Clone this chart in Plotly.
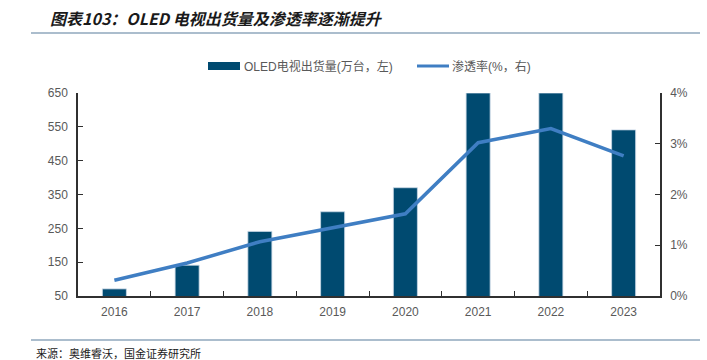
import plotly.graph_objects as go

years = ["2016", "2017", "2018", "2019", "2020", "2021", "2022", "2023"]
shipments = [71, 141, 241, 299, 370, 650, 650, 541]          # 万台, left axis
penetration = [0.0031, 0.0065, 0.0107, 0.0135, 0.0162, 0.0302, 0.0330, 0.0276]  # right axis

left_ticks = [50, 150, 250, 350, 450, 550, 650]
right_ticks = [0, 0.01, 0.02, 0.03, 0.04]

title_text = "图表103：OLED 电视出货量及渗透率逐渐提升"
source_text = "来源：奥维睿沃，国金证券研究所"
bar_name = "OLED电视出货量(万台，左)"
line_name = "渗透率(%，右)"

W, H = 707, 360
L, R, T, B = 78, 47, 93, 64
PW, PH = W - L - R, H - T - B

def px(x):
    return (x - L) / PW

def py(y):
    return (H - B - y) / PH

BAR_COLOR = "#004A70"
LINE_COLOR = "#3F7EC3"
TXT = "#595959"
FONT = "Liberation Sans, Arial, Noto Sans CJK SC, sans-serif"
CJK = "Noto Sans CJK SC, sans-serif"

fig = go.Figure()
fig.add_trace(go.Bar(
    x=years, y=shipments, name=bar_name, width=0.33,
    marker=dict(color=BAR_COLOR, line=dict(color="rgba(200,215,230,0.8)", width=1)),
    showlegend=False,
))
fig.add_trace(go.Scatter(
    x=years, y=penetration, name=line_name, yaxis="y2", mode="lines",
    line=dict(color=LINE_COLOR, width=3.5), showlegend=False,
))

fig.update_layout(
    width=W, height=H,
    margin=dict(l=L, r=R, t=T, b=B),
    paper_bgcolor="white", plot_bgcolor="white",
    font=dict(family=FONT, size=12, color=TXT),
    xaxis=dict(
        type="category", showline=True, linecolor="#303030", linewidth=1.5,
        ticks="inside", tickson="boundaries", ticklen=5, tickcolor="#303030",
        showgrid=False, tickfont=dict(size=12, color=TXT), ticklabelstandoff=4,
    ),
    yaxis=dict(
        range=[50, 650], tickvals=left_ticks, showline=True, linecolor="#303030",
        linewidth=1.5, ticks="inside", ticklen=5, tickcolor="#303030",
        showgrid=False, zeroline=False, tickfont=dict(size=12, color=TXT),
        ticklabelstandoff=6,
    ),
    yaxis2=dict(
        range=[0, 0.04], tickvals=right_ticks, tickformat=".0%", overlaying="y",
        side="right", showline=True, linecolor="#303030", linewidth=1.5,
        ticks="inside", ticklen=5, tickcolor="#303030", showgrid=False,
        zeroline=False, tickfont=dict(size=12, color=TXT), ticklabelstandoff=6,
    ),
    bargap=0.67,
)

shapes = [
    # title underline
    dict(type="line", xref="paper", yref="paper", x0=px(31), x1=px(700), y0=py(33), y1=py(33),
         line=dict(color="#8FA7BC", width=1.5)),
    # source top line
    dict(type="line", xref="paper", yref="paper", x0=px(31), x1=px(700), y0=py(340), y1=py(340),
         line=dict(color="#8FA7BC", width=1.5)),
    # legend bar swatch
    dict(type="rect", xref="paper", yref="paper", x0=px(208), x1=px(240), y0=py(70), y1=py(62),
         fillcolor=BAR_COLOR, line=dict(width=0)),
    # legend line swatch
    dict(type="line", xref="paper", yref="paper", x0=px(417), x1=px(449), y0=py(66), y1=py(66),
         line=dict(color=LINE_COLOR, width=3)),
]
fig.update_layout(shapes=shapes)

annotations = [
    dict(text="<b><i>" + title_text + "</i></b>", xref="paper", yref="paper",
         x=px(48), y=py(18), xanchor="left", yanchor="middle", showarrow=False,
         font=dict(family=CJK, size=16, color="#1a1a1a")),
    dict(text=source_text, xref="paper", yref="paper", x=px(34), y=py(353),
         xanchor="left", yanchor="middle", showarrow=False,
         font=dict(family=CJK, size=11, color="#1a1a1a")),
    dict(text=bar_name, xref="paper", yref="paper", x=px(242), y=py(66),
         xanchor="left", yanchor="middle", showarrow=False,
         font=dict(family=FONT, size=12, color=TXT)),
    dict(text=line_name, xref="paper", yref="paper", x=px(450), y=py(66),
         xanchor="left", yanchor="middle", showarrow=False,
         font=dict(family=FONT, size=12, color=TXT)),
]
fig.update_layout(annotations=annotations)

fig.write_html(
    "out.html",
    config={"displayModeBar": False},
    post_script="document.body.style.margin='0';document.body.style.padding='0';document.body.style.overflow='hidden';",
)
